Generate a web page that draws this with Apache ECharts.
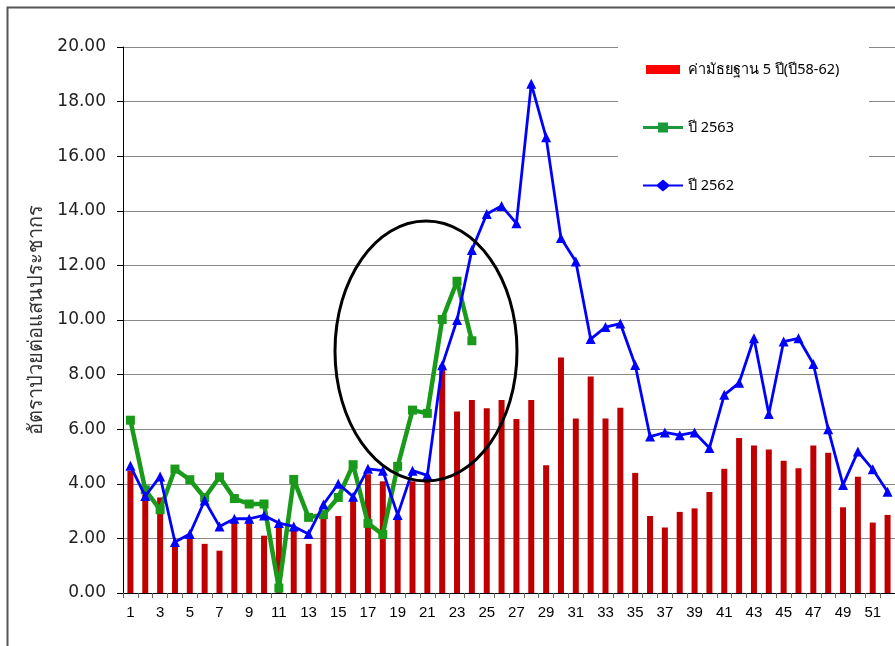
<!DOCTYPE html>
<html>
<head>
<meta charset="utf-8">
<script src="https://cdn.jsdelivr.net/npm/echarts@6/dist/echarts.min.js"></script>
<style>
html,body{margin:0;padding:0;background:#fff;}
#chart{width:895px;height:646px;}
</style>
</head>
<body>
<div id="chart"></div>
<script>
var weeks = [];
for (var i = 1; i <= 52; i++) weeks.push(String(i));

var yTicks = [0, 2, 4, 6, 8, 10, 12, 14, 16, 18, 20];

var seriesNames = ['ค่ามัธยฐาน 5 ปี(ปี58-62)', 'ปี 2563', 'ปี 2562'];
var yAxisTitle = 'อัตราป่วยต่อแสนประชากร';

var median5y = [4.47, 3.6, 3.5, 1.8, 2.07, 1.8, 1.55, 2.65, 2.65, 2.1,
  2.5, 2.3, 1.8, 2.77, 2.82, 3.5, 4.35, 4.09, 2.73, 4.09,
  4.21, 8.34, 6.65, 7.07, 6.77, 7.07, 6.37, 7.07, 4.68, 8.63,
  6.39, 7.93, 6.39, 6.79, 4.40, 2.82, 2.40, 2.97, 3.10, 3.70,
  4.55, 5.68, 5.40, 5.26, 4.84, 4.57, 5.40, 5.14, 3.14, 4.26,
  2.58, 2.86];

var y2563 = [6.33, 3.78, 3.05, 4.54, 4.15, 3.49, 4.25, 3.46, 3.26, 3.26,
  0.18, 4.16, 2.77, 2.87, 3.5, 4.7, 2.55, 2.14, 4.64, 6.70,
  6.58, 10.02, 11.42, 9.24];

var y2562 = [4.66, 3.55, 4.27, 1.87, 2.16, 3.39, 2.44, 2.72, 2.72, 2.84,
  2.56, 2.44, 2.16, 3.24, 4.0, 3.53, 4.55, 4.48, 2.86, 4.48,
  4.31, 8.34, 10.0, 12.56, 13.88, 14.18, 13.54, 18.65, 16.69, 13.0,
  12.14, 9.30, 9.74, 9.87, 8.35, 5.73, 5.88, 5.78, 5.88, 5.31,
  7.26, 7.70, 9.33, 6.56, 9.21, 9.33, 8.39, 6.0, 3.96, 5.18,
  4.53, 3.71];

var thaiFont = '"Noto Sans", "DejaVu Sans", Tahoma, sans-serif';

var chart = echarts.init(document.getElementById('chart'), null, {renderer: 'canvas'});
chart.setOption({
  animation: false,
  backgroundColor: '#fff',
  grid: {left: 123, right: 0, top: 47, bottom: 53, containLabel: false},
  legend: {
    orient: 'vertical',
    left: 643,
    top: 62,
    padding: 0,
    itemGap: 43,
    itemWidth: 40,
    itemHeight: 13,
    z: 10,
    textStyle: {color: '#000', fontSize: 14.5, fontFamily: thaiFont},
    data: [
      {name: seriesNames[0], icon: 'path://M0,0 L0,0 M3,2 L37,2 L37,11 L3,11 Z M40,13 L40,13', itemStyle: {color: '#ff0000'}},
      {name: seriesNames[1], icon: 'path://M0,5 L15,5 L15,1.5 L25,1.5 L25,5 L40,5 L40,8 L25,8 L25,11.5 L15,11.5 L15,8 L0,8 Z M0,0 L0,0 M40,13 L40,13', itemStyle: {color: '#1a9a3a'}},
      {name: seriesNames[2], icon: 'path://M0,5.5 L14,5.5 L20,0.5 L26,5.5 L40,5.5 L40,7.5 L26,7.5 L20,12.5 L14,7.5 L0,7.5 Z M0,0 L0,0 M40,13 L40,13', itemStyle: {color: '#0000ff'}}
    ]
  },
  xAxis: {
    type: 'category',
    data: weeks,
    boundaryGap: true,
    axisLine: {lineStyle: {color: '#000', width: 1}},
    axisTick: {show: true, interval: 0, length: 5, lineStyle: {color: '#666'}},
    axisLabel: {interval: 1, color: '#000', fontSize: 15, fontFamily: 'Liberation Sans, sans-serif', margin: 12},
    splitLine: {show: false}
  },
  yAxis: {
    type: 'value',
    min: yTicks[0],
    max: yTicks[yTicks.length - 1],
    interval: 2,
    name: yAxisTitle,
    nameLocation: 'middle',
    nameRotate: 90,
    nameGap: 72,
    nameTextStyle: {color: '#333', fontSize: 20, fontFamily: thaiFont},
    axisLine: {show: true, lineStyle: {color: '#000', width: 1}},
    axisTick: {show: true, length: 6, lineStyle: {color: '#000'}},
    axisLabel: {color: '#222', fontSize: 17, fontFamily: '"DejaVu Sans", Verdana, sans-serif', margin: 17,
      formatter: function (v) { return v.toFixed(2); }},
    splitLine: {show: true, lineStyle: {color: '#888', width: 1}}
  },
  graphic: [
    {type: 'rect', z: 5, shape: {x: 618, y: 38, width: 251, height: 167}, style: {fill: '#fff'}},
    {type: 'ellipse', z: 20, shape: {cx: 426, cy: 351, rx: 91, ry: 130}, style: {fill: 'none', stroke: '#000', lineWidth: 3}},
    {type: 'rect', z: 30, shape: {x: 7.5, y: 7.5, width: 1000, height: 1000}, style: {fill: 'none', stroke: '#555', lineWidth: 2}}
  ],
  series: [
    {
      name: seriesNames[0],
      type: 'bar',
      data: median5y,
      barWidth: 6,
      itemStyle: {color: '#c00000'},
      z: 2
    },
    {
      name: seriesNames[1],
      type: 'line',
      data: y2563,
      symbol: 'rect',
      symbolSize: 9,
      showAllSymbol: true,
      lineStyle: {color: '#1a9a1a', width: 4.5},
      itemStyle: {color: '#1a9a1a'},
      z: 3
    },
    {
      name: seriesNames[2],
      type: 'line',
      data: y2562,
      symbol: 'triangle',
      symbolSize: 10,
      showAllSymbol: true,
      lineStyle: {color: '#0000ff', width: 2.8},
      itemStyle: {color: '#0000ff'},
      z: 4
    }
  ]
});
</script>
</body>
</html>
